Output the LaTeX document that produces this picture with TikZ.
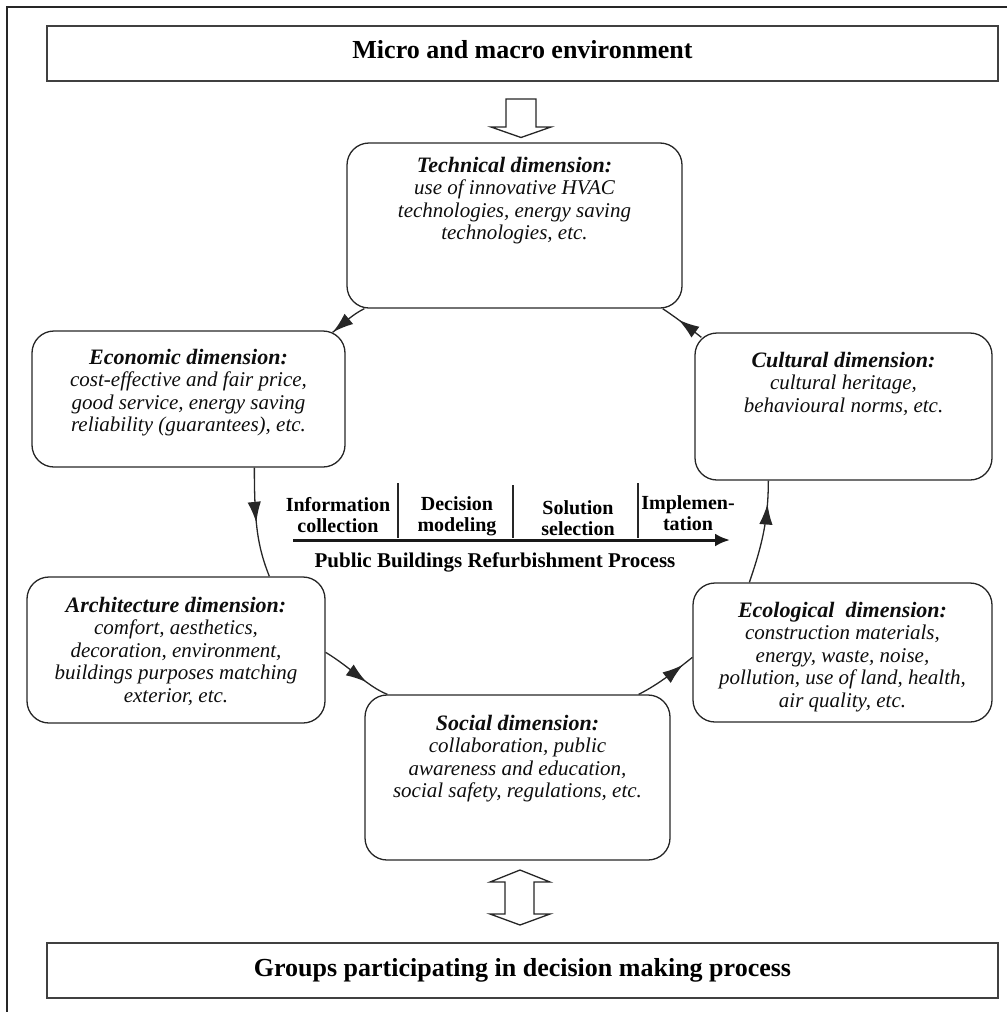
\documentclass[tikz,border=0pt]{standalone}
\usepackage{fontspec}
\setmainfont{Liberation Serif}
\usetikzlibrary{arrows.meta,decorations.markings,calc}
\newcommand{\dimtitle}[1]{{\fontsize{22}{22.5}\selectfont\bfseries\itshape #1}}
\begin{document}
\begin{tikzpicture}[x=1pt,y=-1pt,
 dimbox/.style={draw=black!85, line width=1.3pt, rounded corners=22pt, inner sep=0pt},
 dimtext/.style={anchor=north, align=center, inner sep=0pt, text=black!95, font=\fontsize{21}{22.5}\selectfont\itshape},
 envbox/.style={draw=black!75, line width=1.8pt, inner sep=0pt, font=\fontsize{26}{30}\selectfont\bfseries, text=black},
 envtext/.style={inner sep=0pt, font=\fontsize{26}{30}\selectfont\bfseries, text=black},
 flow/.style={line width=1.3pt, draw=black!85},
 midarrow/.style={postaction={decorate}, decoration={markings, mark=at position #1 with {\arrow[scale=1.5]{Latex[length=14pt,width=9pt]}}}},
 hollow/.style={draw=black!85, line width=1.3pt, fill=white, line join=miter},
 phase/.style={font=\fontsize{20}{21}\selectfont\bfseries, align=center, inner sep=0pt, text=black},
 sep/.style={line width=1.2pt, draw=black!85},
]
\useasboundingbox (0,0) rectangle (1007,1012);
% outer frame (cropped)
\draw[line width=2pt, draw=black!85] (7,1012) -- (7,7) -- (1007,7);

% environment boxes
\node[envbox, minimum width=951pt, minimum height=55pt] (env) at (522.5,53.5) {};
\node[envtext] (envT) at (522.5,50) {Micro and macro environment};
\node[envbox, minimum width=951pt, minimum height=55pt] (groups) at (522.5,970.5) {Groups participating in decision making process};

% hollow arrows
\draw[hollow] (506,99) -- (536,99) -- (536,127) -- (551,127) -- (521,137.5) -- (491,127) -- (506,127) -- cycle;
\draw[hollow] (520,870) -- (550,882) -- (534,882) -- (534,914) -- (550,914) -- (520,925) -- (490,914) -- (505,914) -- (505,882) -- (490,882) -- cycle;

% dimension boxes
\node[dimbox, minimum width=335pt, minimum height=165pt] (tech) at (514.5,225.5) {};
\node[dimbox, minimum width=313pt, minimum height=136pt] (econ) at (188.5,399) {};
\node[dimbox, minimum width=297pt, minimum height=147pt] (cult) at (843.5,406.5) {};
\node[dimbox, minimum width=298pt, minimum height=146pt] (arch) at (176,650) {};
\node[dimbox, minimum width=299pt, minimum height=139pt] (eco) at (842.5,652.5) {};
\node[dimbox, minimum width=305pt, minimum height=165pt] (social) at (517.5,777.5) {};

% dimension texts
\node[dimtext] (techT) at (514.5,157) {\dimtitle{Technical dimension:}\\use of innovative HVAC\\technologies, energy saving\\technologies, etc.};
\node[dimtext] (econT) at (188.5,349) {\dimtitle{Economic dimension:}\\cost-effective and fair price,\\good service, energy saving\\reliability (guarantees), etc.};
\node[dimtext] (cultT) at (843.5,352) {\dimtitle{Cultural dimension:}\\cultural heritage,\\behavioural norms, etc.};
\node[dimtext] (archT) at (176,597) {\dimtitle{Architecture dimension:}\\comfort, aesthetics,\\decoration, environment,\\buildings purposes matching\\exterior, etc.};
\node[dimtext] (ecoT) at (842.5,602) {\dimtitle{Ecological~\ dimension:}\\construction materials,\\energy, waste, noise,\\pollution, use of land, health,\\air quality, etc.};
\node[dimtext] (socialT) at (517.5,715) {\dimtitle{Social dimension:}\\collaboration, public\\awareness and education,\\social safety, regulations, etc.};

% cycle connectors
\draw[flow, midarrow=1] ($(tech.south west)+(18,0)$) .. controls +(-12,6) and +(12,-10) .. ($(econ.north east)+(-13,2)$);
\draw[flow, midarrow=0.5] ($(econ.south west)+(223,0)$) .. controls +(0,55) and +(-12,-30) .. ($(arch.north west)+(243,0)$);
\draw[flow, midarrow=0.68] ($(arch.north east)+(0,76)$) .. controls +(25,15) and +(-20,-8) .. ($(social.north west)+(23,0)$);
\draw[flow, midarrow=0.82] ($(social.north east)+(-32,0)$) .. controls +(20,-10) and +(-15,12) .. ($(eco.north west)+(0,75)$);
\draw[flow, midarrow=0.78] ($(eco.north west)+(57,0)$) .. controls +(12,-35) and +(0,40) .. ($(cult.south west)+(74,0)$);
\draw[flow, midarrow=0.6] ($(cult.north west)+(7,5)$) .. controls +(-15,-12) and +(12,8) .. ($(tech.south east)+(-20,0)$);

% process timeline
\coordinate (tlstart) at (293,540);
\coordinate (tlend) at (730,540);
\draw[line width=3pt, draw=black!90, -{Latex[length=15pt,width=13pt]}] (tlstart) -- (tlend);
\draw[sep] (398,483) -- (398,538);
\draw[sep] (513,485) -- (513,538);
\draw[sep] (638,483) -- (638,538);
\node[phase] (p1) at (338,515.5) {Information\\collection};
\node[phase] (p2) at (457,516) {Decision\\modeling};
\node[phase] (p3) at (578,518) {Solution\\selection};
\node[phase] (p4) at (688,513.5) {Implemen-\\tation};
\node[font=\fontsize{21}{24}\selectfont\bfseries, text=black, inner sep=0pt] (pbr) at (495,562) {Public Buildings Refurbishment Process};
\end{tikzpicture}
\end{document}
